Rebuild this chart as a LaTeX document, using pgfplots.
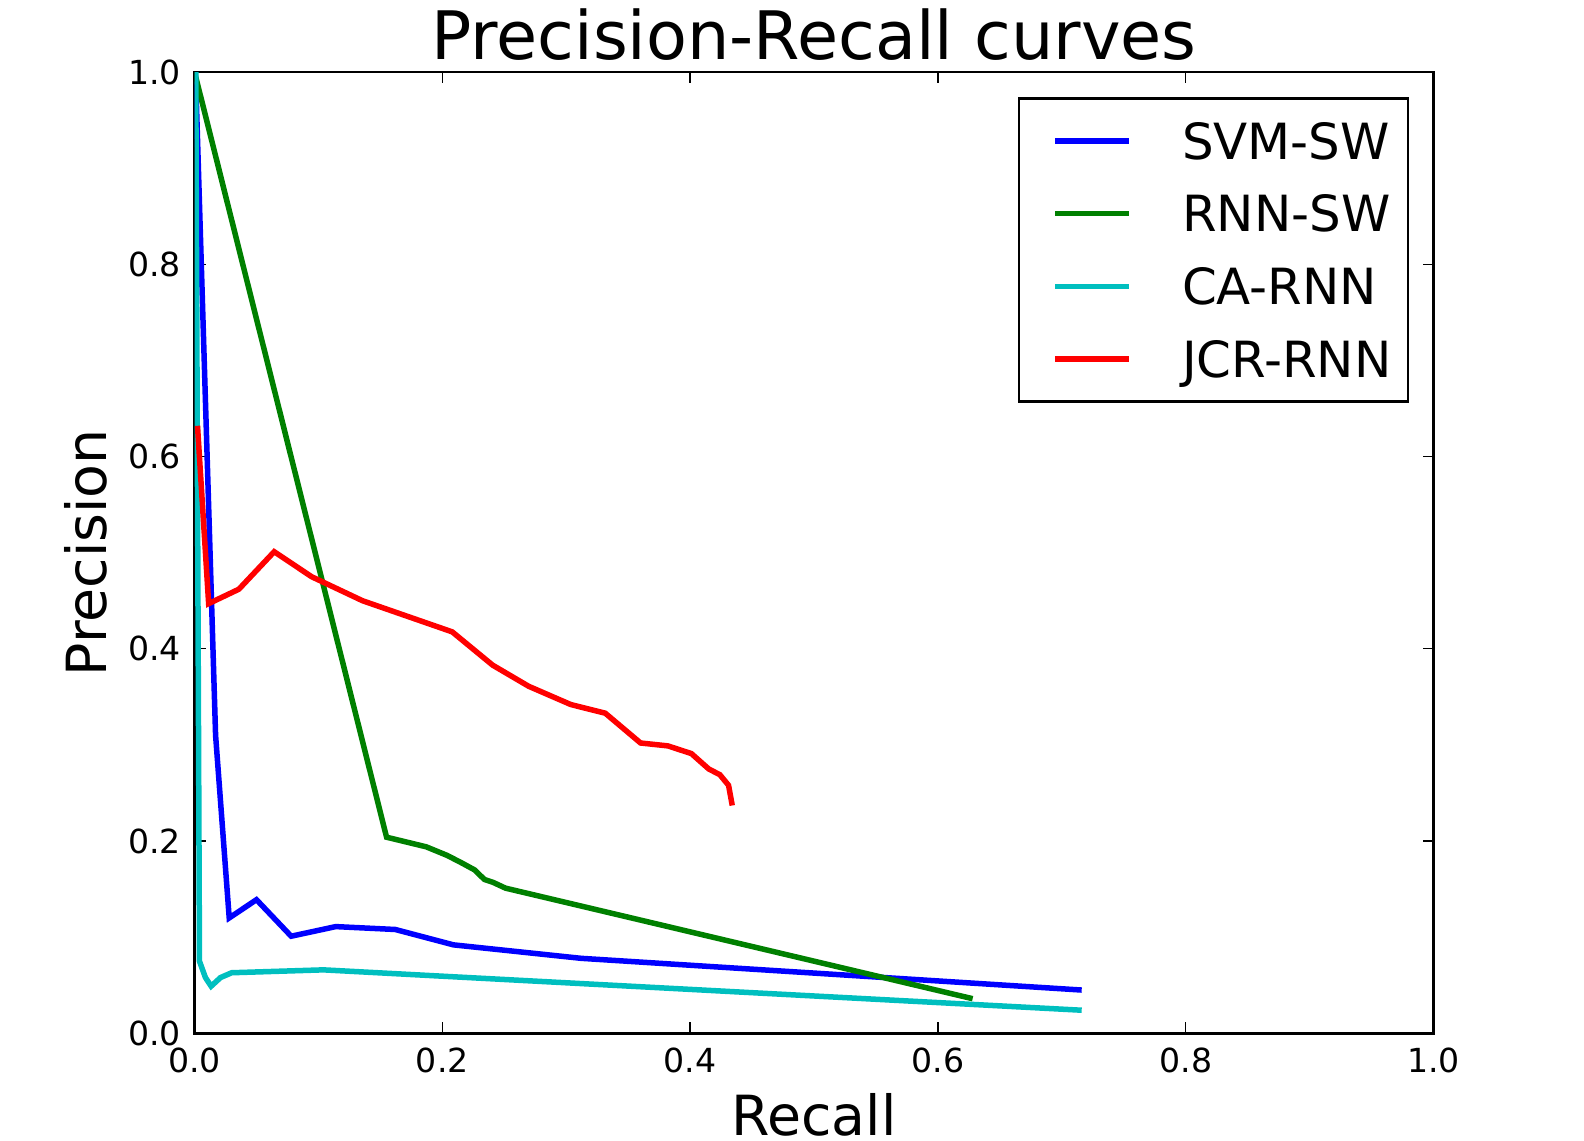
\documentclass[border=0pt]{standalone}
\usepackage{fontspec}
\setmainfont{DejaVu Sans}
\usepackage{pgfplots}
\pgfplotsset{compat=1.18}
\definecolor{mplblue}{rgb}{0,0,1}
\definecolor{mplgreen}{rgb}{0,0.5,0}
\definecolor{mplcyan}{rgb}{0,0.75,0.75}
\definecolor{mplred}{rgb}{1,0,0}
\begin{document}
\begin{tikzpicture}
\useasboundingbox (-70.73bp,-38.9bp) rectangle (505.2bp,375.7bp);
\begin{axis}[
  scale only axis,
  width=450.5bp, height=349.5bp,
  xmin=0, xmax=1, ymin=0, ymax=1,
  xtick={0,0.2,0.4,0.6,0.8,1.0},
  ytick={0,0.2,0.4,0.6,0.8,1.0},
  minor tick num=0,
  tick pos=both,
  tick align=inside,
  major tick length=4bp,
  every tick/.style={black, line width=0.5bp},
  axis line style={line width=1bp},
  /pgf/number format/assume math mode=true,
  /pgf/number format/.cd, fixed, fixed zerofill, precision=1,
  /pgfplots/.cd,
  ticklabel style={font=\fontsize{12.1}{14}\selectfont, inner sep=0pt},
  xticklabel style={anchor=north, yshift=-5bp},
  yticklabel style={anchor=east, xshift=-4.7bp},
  xlabel={Recall},
  ylabel={Precision},
  title={Precision-Recall curves},
  every axis title shift=0pt,
  xlabel style={font=\fontsize{20.2}{24}\selectfont, inner sep=0pt, at={(axis description cs:0.5,-0.0615)}, anchor=north},
  ylabel style={font=\fontsize{20.2}{24}\selectfont, inner sep=0pt, at={(axis description cs:-0.071,0.5)}, anchor=base, rotate=0},
  title style={font=\fontsize{24.4}{28}\selectfont, inner sep=0pt, at={(axis description cs:0.5,1.0126)}, anchor=base},
  legend style={at={(0.9805,0.9737)}, anchor=north east, draw=black, line width=1bp,
    font=\fontsize{18.2}{22}\selectfont, inner xsep=6bp, inner ysep=8.8bp,
    row sep=13.15bp, column sep=18.4bp,
    nodes={inner sep=0pt, text height=13.25bp, text depth=0bp},
    cells={anchor=west}},
  legend image code/.code={\path (0bp,0bp); \draw[#1, line width=2bp] (6.1bp,0bp) -- (32.9bp,0bp);},
  every axis plot/.append style={line width=2bp, line join=miter},
]
\addplot[mplblue] coordinates {
(0.001,0.99) (0.017,0.31) (0.028,0.12) (0.050,0.139) (0.078,0.101)
(0.114,0.111) (0.162,0.108) (0.209,0.092) (0.312,0.078) (0.716,0.045)};
\addlegendentry{SVM-SW}
\addplot[mplgreen] coordinates {
(0.0,1.0) (0.155,0.204) (0.187,0.194) (0.204,0.185) (0.216,0.177)
(0.226,0.170) (0.234,0.160) (0.241,0.157) (0.251,0.151) (0.628,0.036)};
\addlegendentry{RNN-SW}
\addplot[mplcyan] coordinates {
(0.001,1.0) (0.004,0.075) (0.0088,0.058) (0.0134,0.049) (0.021,0.058)
(0.030,0.063) (0.104,0.066) (0.716,0.024)};
\addlegendentry{CA-RNN}
\addplot[mplred] coordinates {
(0.0024,0.632) (0.0114,0.447) (0.0358,0.462) (0.0643,0.501) (0.0945,0.475)
(0.1356,0.450) (0.208,0.4176) (0.2406,0.383) (0.2697,0.361) (0.3037,0.342)
(0.3315,0.333) (0.360,0.302) (0.382,0.299) (0.401,0.291) (0.415,0.275)
(0.424,0.269) (0.431,0.258) (0.434,0.237)};
\addlegendentry{JCR-RNN}
\end{axis}
\end{tikzpicture}
\end{document}
